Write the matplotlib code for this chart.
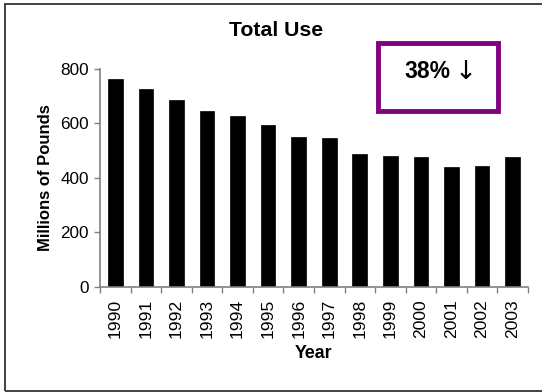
import matplotlib.pyplot as plt
from matplotlib.patches import Rectangle
import numpy as np

years = ['1990', '1991', '1992', '1993', '1994', '1995', '1996',
         '1997', '1998', '1999', '2000', '2001', '2002', '2003']
total_use = [760, 724, 685, 643, 626, 593, 548, 547, 487, 478, 476, 439, 443, 476]

plt.rcParams['font.family'] = ['Liberation Sans', 'DejaVu Sans']

fig = plt.figure(figsize=(5.42, 3.92), dpi=100)
ax = fig.add_axes([0.1845, 0.269, 0.7895, 0.556])

x = np.arange(len(years))
ax.bar(x, total_use, width=0.48, color='black', edgecolor='black', linewidth=0.5)

ax.set_xlim(-0.5, len(years) - 0.5)
ax.set_ylim(0, 800)
ax.set_yticks([0, 200, 400, 600, 800])
ax.set_xticks(x)
ax.set_xticklabels(years, rotation=90, fontsize=12.6)
ax.set_xticks(np.arange(-0.5, len(years)), minor=True)
ax.tick_params(axis='x', which='major', length=0, pad=9)
ax.tick_params(axis='x', which='minor', length=4, color='#808080', width=1)
ax.tick_params(axis='y', length=4, color='#808080', width=1, labelsize=12.3, pad=4)

for side in ['top', 'right']:
    ax.spines[side].set_visible(False)
for side in ['left', 'bottom']:
    ax.spines[side].set_color('#808080')
    ax.spines[side].set_linewidth(1.2)

ax.set_ylabel('Millions of Pounds', fontsize=12, fontweight='bold', labelpad=5)
fig.text(314 / 542, 1 - 354 / 392, 'Year', ha='center', va='center',
         fontsize=12.8, fontweight='bold')
fig.text(276 / 542, 1 - 30 / 392, 'Total Use', ha='center', va='center',
         fontsize=15.3, fontweight='bold')

# change callout
fig.patches.append(Rectangle((378 / 542, 1 - 111 / 392), 120 / 542, 68 / 392,
                             transform=fig.transFigure, fill=False,
                             edgecolor='#800080', linewidth=3.5))
fig.text(427 / 542, 1 - 72 / 392, '38%', ha='center', va='center',
         fontsize=16.5, fontweight='bold')
fig.text(466 / 542, 1 - 72 / 392, '\u2193', ha='center', va='center',
         fontsize=19, family=['DejaVu Sans'])

# outer frame
fig.patches.append(Rectangle((5 / 542, 1 - 391 / 392), 1.2, 387 / 392,
                             transform=fig.transFigure, fill=False,
                             edgecolor='#333333', linewidth=1.3))

fig.savefig('out.png', dpi=100)
